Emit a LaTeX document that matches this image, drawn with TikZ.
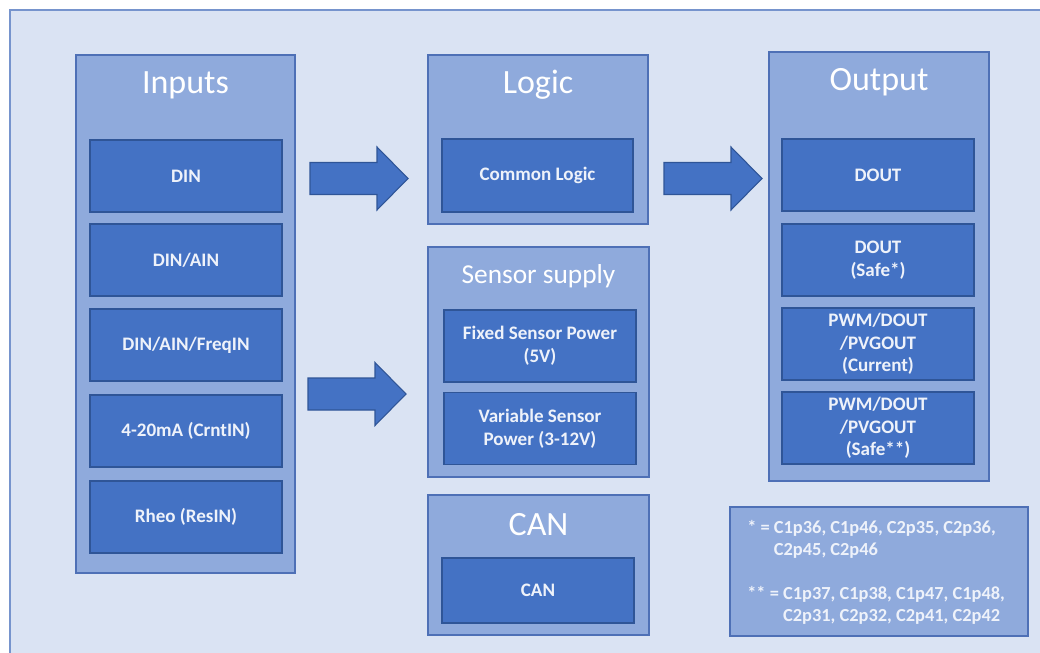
\documentclass[tikz,border=0pt]{standalone}
\usepackage{fontspec}
\setmainfont{Carlito}
\usepackage{tikz}
\definecolor{frameBg}{RGB}{218,227,243}
\definecolor{frameLine}{RGB}{118,148,205}
\definecolor{groupFill}{RGB}{143,170,220}
\definecolor{groupLine}{RGB}{78,112,182}
\definecolor{unitFill}{RGB}{68,114,196}
\definecolor{unitLine}{RGB}{47,85,151}
\definecolor{unitText}{RGB}{238,242,250}
\newcommand{\blockarrow}[1]{%
  \filldraw[arrowbody] #1 ++(0,-16) -- ++(67,0) -- ++(0,-15.5) -- ++(31,31.5)
    -- ++(-31,31.5) -- ++(0,-15.5) -- ++(-67,0) -- cycle;
}

\begin{document}
\begin{tikzpicture}[x=0.75pt, y=-0.75pt,
    boxsize/.style 2 args={minimum width=#1*0.75pt, minimum height=#2*0.75pt},
    group/.style={draw=groupLine, line width=0.8pt, fill=groupFill, inner sep=0pt},
    unit/.style={draw=unitLine, line width=1pt, fill=unitFill, text=unitText, inner sep=0pt,
      boxsize={192}{72}, align=center, font=\fontsize{14.3}{17}\selectfont\bfseries},
    grouptitle/.style={text=white, anchor=base, inner sep=0pt, font=\fontsize{25.5}{30}\selectfont},
    arrowbody/.style={fill=unitFill, draw=unitLine, line width=0.8pt}]
    % page and frame
    \useasboundingbox (0,0) rectangle (1040,653);
    \clip (0,0) rectangle (1040,653);
    \fill[white] (0,0) rectangle (1040,653);
    \draw[frameLine, line width=1.5pt, fill=frameBg] (10,10) rectangle (1060,670);

    % inputs column
    \node[group, boxsize={219}{518}] (inputs) at (185.5,314) {};
    \node[grouptitle] (inputsT) at (185.5,93) {Inputs};
    \node[unit] (din) at (186,176) {DIN};
    \node[unit] (dinain) at (186,260) {DIN/AIN};
    \node[unit] (freqin) at (186,345) {DIN/AIN/FreqIN};
    \node[unit] (crntin) at (186,431) {4-20mA (CrntIN)};
    \node[unit] (resin) at (186,517) {Rheo (ResIN)};

    % logic
    \node[group, boxsize={220}{169}] (logic) at (538,139.5) {};
    \node[grouptitle] (logicT) at (538,93) {Logic};
    \node[unit, boxsize={191}{73}] (common) at (537.5,175.5) {Common Logic};

    % sensor supply
    \node[group, boxsize={221}{230}] (supply) at (538.5,362) {};
    \node[grouptitle, font=\fontsize{20.5}{24}\selectfont] (supplyT) at (538.5,283) {Sensor supply};
    \node[unit] (fixedpwr) at (540,346) {Fixed Sensor Power\\(5V)};
    \node[unit] (varpwr) at (540,428.5) {Variable Sensor\\Power (3-12V)};

    % can
    \node[group, boxsize={221}{140}] (can) at (538.5,565) {};
    \node[grouptitle] (canT) at (538.5,535) {CAN};
    \node[unit, boxsize={192}{65}] (canbus) at (538,590.5) {CAN};

    % outputs column
    \node[group, boxsize={220}{429}] (output) at (879,266.5) {};
    \node[grouptitle] (outputT) at (879,90) {Output};
    \node[unit] (dout) at (878,175) {DOUT};
    \node[unit] (doutsafe) at (878,260) {DOUT\\(Safe*)};
    \node[unit] (pwmcur) at (878,344) {PWM/DOUT\\/PVGOUT\\(Current)};
    \node[unit] (pwmsafe) at (878,428) {PWM/DOUT\\/PVGOUT\\(Safe**)};

    % pin notes
    \node[group, boxsize={298}{129}] (notes) at (879,571.5) {};
    \node[anchor=north west, text=unitText, align=left, inner sep=0pt,
      font=\fontsize{13.8}{16.5}\selectfont\bfseries] (notesT) at (747,520)
      {* = C1p36, C1p46, C2p35, C2p36,\\\phantom{* = }C2p45, C2p46\\[16.5pt]
       ** = C1p37, C1p38, C1p47, C1p48,\\\phantom{** = }C2p31, C2p32, C2p41, C2p42};

    % flow arrows
    \blockarrow{(310,178.5)}
    \blockarrow{(308,394)}
    \blockarrow{(664,178.5)}
  \end{tikzpicture}
\end{document}
